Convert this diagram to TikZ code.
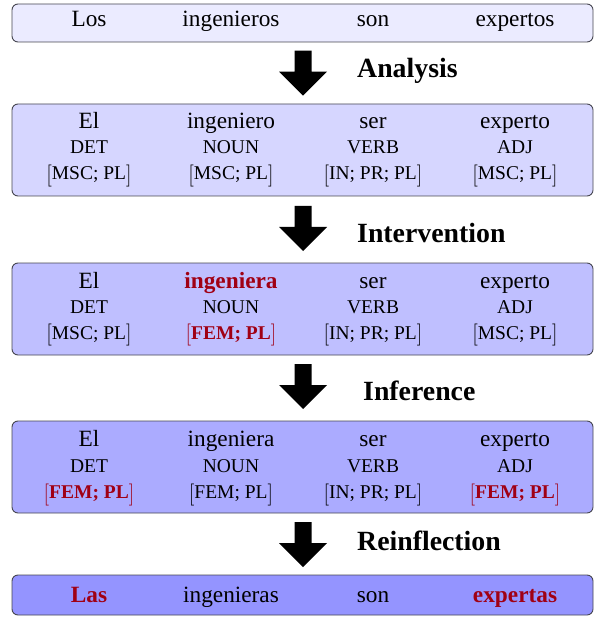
\documentclass[tikz,border=0pt]{standalone}
\usepackage{fontspec}
\setmainfont{Liberation Serif}
\newfontfamily\lmfont{Latin Modern Roman}
\definecolor{hl}{RGB}{160,0,20}
\definecolor{frame}{RGB}{70,70,80}
\tikzset{
  box/.style={draw=frame, line width=0.9pt, rounded corners=6pt, inner sep=0pt, outer sep=0pt, minimum width=581pt},
  word/.style={anchor=base, inner sep=0pt, font=\fontsize{23.3}{28}\selectfont},
  hlword/.style={anchor=base, inner sep=0pt, text=hl, font=\fontsize{23.3}{28}\selectfont\bfseries},
  tagtext/.style={anchor=base, inner sep=0pt, font=\fontsize{19.5}{23.4}\selectfont},
  stage/.style={anchor=base west, inner sep=0pt, font=\fontsize{27.8}{33}\selectfont\bfseries}
}
\newcommand\lbr{\raisebox{-1.5pt}{\lmfont\mdseries\fontsize{22}{26}\selectfont[}}
\newcommand\rbr{\raisebox{-1.5pt}{\lmfont\mdseries\fontsize{22}{26}\selectfont]}}
\newcommand\feat[1]{\lbr#1\rbr}
\newcommand\hfeat[1]{\textcolor{hl}{\lbr\textbf{#1}\rbr}}
\newcommand\stagearrow[1]{\fill[black] (#1) ++(-8.5,0) -- ++(17,0) -- ++(0,21) -- ++(15.5,0) -- ++(-24,24) -- ++(-24,-24) -- ++(15.5,0) -- cycle;}
\begin{document}
\begin{tikzpicture}[x=1pt,y=-1pt]
\useasboundingbox (0,0) rectangle (594,617);
% boxes
\node[box, fill=blue!8,  minimum height=38pt] (b1) at (302.5,23) {};
\node[box, fill=blue!16, minimum height=92pt] (b2) at (302.5,150) {};
\node[box, fill=blue!25, minimum height=92pt] (b3) at (302.5,309) {};
\node[box, fill=blue!33, minimum height=92pt] (b4) at (302.5,467) {};
\node[box, fill=blue!42, minimum height=40pt] (b5) at (302.5,595) {};
% row 1
\node[word] (w11) at (89,27) {Los};
\node[word] (w12) at (231,27) {ingenieros};
\node[word] (w13) at (373,27) {son};
\node[word] (w14) at (515,27) {expertos};
% box 2
\node[word] (w21) at (89,129) {El};
\node[word] (w22) at (231,129) {ingeniero};
\node[word] (w23) at (373,129) {ser};
\node[word] (w24) at (515,129) {experto};
\node[tagtext] (p21) at (89,154) {DET};
\node[tagtext] (p22) at (231,154) {NOUN};
\node[tagtext] (p23) at (373,154) {VERB};
\node[tagtext] (p24) at (515,154) {ADJ};
\node[tagtext] (f21) at (89,180) {\feat{MSC; PL}};
\node[tagtext] (f22) at (231,180) {\feat{MSC; PL}};
\node[tagtext] (f23) at (373,180) {\feat{IN; PR; PL}};
\node[tagtext] (f24) at (515,180) {\feat{MSC; PL}};
% box 3
\node[word] (w31) at (89,288) {El};
\node[hlword] (w32) at (231,288) {ingeniera};
\node[word] (w33) at (373,288) {ser};
\node[word] (w34) at (515,288) {experto};
\node[tagtext] (p31) at (89,313) {DET};
\node[tagtext] (p32) at (231,313) {NOUN};
\node[tagtext] (p33) at (373,313) {VERB};
\node[tagtext] (p34) at (515,313) {ADJ};
\node[tagtext] (f31) at (89,339) {\feat{MSC; PL}};
\node[tagtext] (f32) at (231,339) {\hfeat{FEM; PL}};
\node[tagtext] (f33) at (373,339) {\feat{IN; PR; PL}};
\node[tagtext] (f34) at (515,339) {\feat{MSC; PL}};
% box 4
\node[word] (w41) at (89,446.5) {El};
\node[word] (w42) at (231,446.5) {ingeniera};
\node[word] (w43) at (373,446.5) {ser};
\node[word] (w44) at (515,446.5) {experto};
\node[tagtext] (p41) at (89,472) {DET};
\node[tagtext] (p42) at (231,472) {NOUN};
\node[tagtext] (p43) at (373,472) {VERB};
\node[tagtext] (p44) at (515,472) {ADJ};
\node[tagtext] (f41) at (89,498.5) {\hfeat{FEM; PL}};
\node[tagtext] (f42) at (231,498.5) {\feat{FEM; PL}};
\node[tagtext] (f43) at (373,498.5) {\feat{IN; PR; PL}};
\node[tagtext] (f44) at (515,498.5) {\hfeat{FEM; PL}};
% row 5
\node[hlword] (w51) at (89,602) {Las};
\node[word] (w52) at (231,602) {ingenieras};
\node[word] (w53) at (373,602) {son};
\node[hlword] (w54) at (515,602) {expertas};
% arrows
\coordinate (a1) at (303,50.7);
\coordinate (a2) at (303,206);
\coordinate (a3) at (303,364);
\coordinate (a4) at (303,522);
\stagearrow{a1}
\stagearrow{a2}
\stagearrow{a3}
\stagearrow{a4}
\node[stage] (l1) at (357,77.7) {Analysis};
\node[stage] (l2) at (357,242.7) {Intervention};
\node[stage] (l3) at (363,400) {Inference};
\node[stage] (l4) at (357,550) {Reinflection};
\end{tikzpicture}
\end{document}
